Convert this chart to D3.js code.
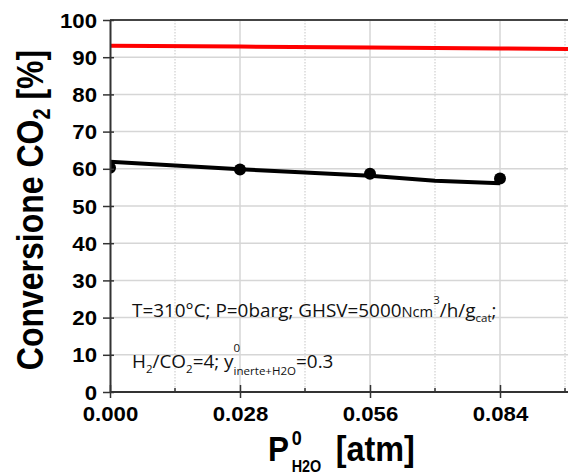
<!DOCTYPE html>
<html>
<head>
<meta charset="utf-8">
<script src="https://cdn.jsdelivr.net/npm/d3@7"></script>
<style>
  html, body { margin: 0; padding: 0; background: #fff; }
  svg { display: block; }
  text { white-space: pre; }
</style>
</head>
<body>
<svg id="chart" width="568" height="475"></svg>
<script>
// Partial pressure of water fed (atm) and CO2 conversion (%)
const xTickValues = [0, 0.028, 0.056, 0.084];
const xTickLabels = ["0.000", "0.028", "0.056", "0.084"];
const xMinorTicks = [0.014, 0.042, 0.07, 0.098];
const yTickValues = [0, 10, 20, 30, 40, 50, 60, 70, 80, 90, 100];

// thermodynamic equilibrium (red)
const eqP = [0, 0.028, 0.056, 0.084, 0.1];
const eqConv = [93.1, 92.85, 92.6, 92.35, 92.2];

// model prediction (black line)
const modelP = [0, 0.014, 0.028, 0.042, 0.056, 0.07, 0.084];
const modelConv = [61.9, 60.9, 59.9, 59.0, 58.1, 56.8, 56.1];

// experimental points
const expP = [0, 0.028, 0.056, 0.084];
const expConv = [60.3, 59.8, 58.7, 57.4];

const svg = d3.select("#chart");
const plotLeft = 110, plotTop = 20, plotBottom = 392, plotRight = 568;

const x = d3.scaleLinear().domain([0, 0.028]).range([plotLeft, 240]);
const y = d3.scaleLinear().domain([0, 100]).range([plotBottom, plotTop]);

svg.append("defs").append("clipPath").attr("id", "plotClip")
  .append("rect").attr("x", plotLeft).attr("y", plotTop)
  .attr("width", plotRight - plotLeft).attr("height", plotBottom - plotTop);

// gridlines
const grid = svg.append("g");
grid.selectAll("line.h").data(yTickValues.filter(d => d > 0 && d < 100)).enter().append("line")
  .attr("x1", plotLeft).attr("x2", plotRight)
  .attr("y1", d => y(d)).attr("y2", d => y(d))
  .attr("stroke", "#d6d6d6").attr("stroke-width", 1.5);
grid.selectAll("line.vmaj").data(xTickValues.filter(d => d > 0)).enter().append("line")
  .attr("x1", d => x(d)).attr("x2", d => x(d))
  .attr("y1", plotTop).attr("y2", plotBottom)
  .attr("stroke", "#d6d6d6").attr("stroke-width", 1.5);
grid.selectAll("line.vmin").data(xMinorTicks).enter().append("line")
  .attr("x1", d => x(d)).attr("x2", d => x(d))
  .attr("y1", plotTop).attr("y2", plotBottom)
  .attr("stroke", "#d9d9d9").attr("stroke-width", 1.5)
  .attr("stroke-dasharray", "1.5,1.5");

// top frame
svg.append("line").attr("x1", plotLeft).attr("x2", plotRight)
  .attr("y1", plotTop).attr("y2", plotTop)
  .attr("stroke", "#444").attr("stroke-width", 2);

// data layers
const plot = svg.append("g").attr("clip-path", "url(#plotClip)");
const line = d3.line().x(d => x(d[0])).y(d => y(d[1]));

plot.append("path").datum(d3.zip(eqP, eqConv))
  .attr("d", line).attr("fill", "none")
  .attr("stroke", "#ff0000").attr("stroke-width", 4);

plot.append("path").datum(d3.zip(modelP, modelConv))
  .attr("d", line).attr("fill", "none")
  .attr("stroke", "#000").attr("stroke-width", 4);

plot.selectAll("circle.exp").data(d3.zip(expP, expConv)).enter().append("circle")
  .attr("cx", d => x(d[0])).attr("cy", d => y(d[1]))
  .attr("r", 6).attr("fill", "#000");

// axes
const axisFont = "'Liberation Sans', Arial, sans-serif";
const tickLabelScale = 1.14;
const yAxis = svg.append("g").attr("transform", `translate(${plotLeft},0)`)
  .call(d3.axisLeft(y).tickValues(yTickValues).tickSizeInner(7).tickSizeOuter(0).tickPadding(0));
yAxis.select(".domain").attr("stroke", "#333").attr("stroke-width", 2);
yAxis.selectAll(".tick line").attr("x2", 4).attr("x1", -7)
  .attr("stroke", "#333").attr("stroke-width", 1.5);
yAxis.selectAll(".tick text")
  .attr("x", null).attr("dy", null)
  .attr("transform", "translate(-13,7) scale(" + tickLabelScale + ",1)")
  .attr("text-anchor", "end")
  .style("font-family", axisFont)
  .style("font-weight", "bold").style("font-size", "19.5px").attr("fill", "#000");

const xAxis = svg.append("g").attr("transform", `translate(0,${plotBottom})`)
  .call(d3.axisBottom(x).tickValues(xTickValues)
    .tickFormat((d, i) => xTickLabels[i]).tickSizeInner(6).tickSizeOuter(0).tickPadding(0));
xAxis.select(".domain").attr("d", `M${plotLeft},0H${plotRight}`).attr("stroke", "#333").attr("stroke-width", 2);
xAxis.selectAll(".tick line").attr("y1", -7).attr("y2", 6)
  .attr("stroke", "#333").attr("stroke-width", 1.5);
xAxis.selectAll(".tick text")
  .attr("y", null).attr("dy", null)
  .attr("transform", "translate(0,29) scale(" + tickLabelScale + ",1)")
  .attr("text-anchor", "middle")
  .style("font-family", axisFont)
  .style("font-weight", "bold").style("font-size", "19.5px").attr("fill", "#000");
xAxis.selectAll("line.minor").data(xMinorTicks).enter().append("line")
  .attr("x1", d => x(d)).attr("x2", d => x(d)).attr("y1", -4).attr("y2", 0)
  .attr("stroke", "#333").attr("stroke-width", 1.5);

// axis titles
const yTitle = svg.append("text")
  .attr("transform", "translate(43,210) scale(1.18,1) rotate(-90)")
  .attr("text-anchor", "middle")
  .style("font-family", axisFont).style("font-weight", "bold").style("font-size", "32px");
yTitle.append("tspan").text("Conversione CO");
yTitle.append("tspan").text("2").style("font-size", "20px").attr("dy", 6);
yTitle.append("tspan").text(" [%]").attr("dy", -6);

const xTitle = svg.append("g").attr("transform", "translate(268,461) scale(0.9,1)")
  .style("font-family", axisFont).style("font-weight", "bold");
const pText = xTitle.append("text").style("font-size", "35px").text("P");
const pW = pText.node().getComputedTextLength();
xTitle.append("text").attr("x", pW + 3).attr("y", -16).style("font-size", "20px").text("0");
const sub = xTitle.append("text").attr("x", pW + 3).attr("y", 11).style("font-size", "16px").text("H2O");
const subW = sub.node().getComputedTextLength();
xTitle.append("text").attr("x", pW + 3 + subW + 16).style("font-size", "36px").text("[atm]");

// condition notes
const noteFont = "'Open Sans', sans-serif";
function note(parts, tx, ty, sx) {
  const t = svg.append("text")
    .attr("transform", `translate(${tx},${ty}) scale(${sx},1)`)
    .style("font-family", noteFont).attr("fill", "#111");
  let base = 0;
  parts.forEach(p => {
    const s = t.append("tspan").text(p.t).style("font-size", (p.s || 18) + "px");
    const shift = (p.shift || 0);
    s.attr("dy", shift - base);
    base = shift;
    if (p.back) s.attr("dx", -p.back());
    p.node = s.node();
  });
  return t;
}
note([
  { t: "T=310°C; P=0barg; GHSV=5000" },
  { t: "Ncm", s: 14 },
  { t: "3", s: 11, shift: -13 },
  { t: "/h/g" },
  { t: "cat", s: 11, shift: 5 },
  { t: ";" }
], 132, 317, 1.05);

const line2 = [
  { t: "H" },
  { t: "2", s: 11, shift: 5 },
  { t: "/CO" },
  { t: "2", s: 11, shift: 5 },
  { t: "=4; y" },
  { t: "0", s: 11, shift: -16 },
  { t: "inerte+H2O", s: 11, shift: 7, back: () => line2[5].node.getComputedTextLength() },
  { t: "=0.3" }
];
note(line2, 132, 368, 1.05);
</script>
</body>
</html>
